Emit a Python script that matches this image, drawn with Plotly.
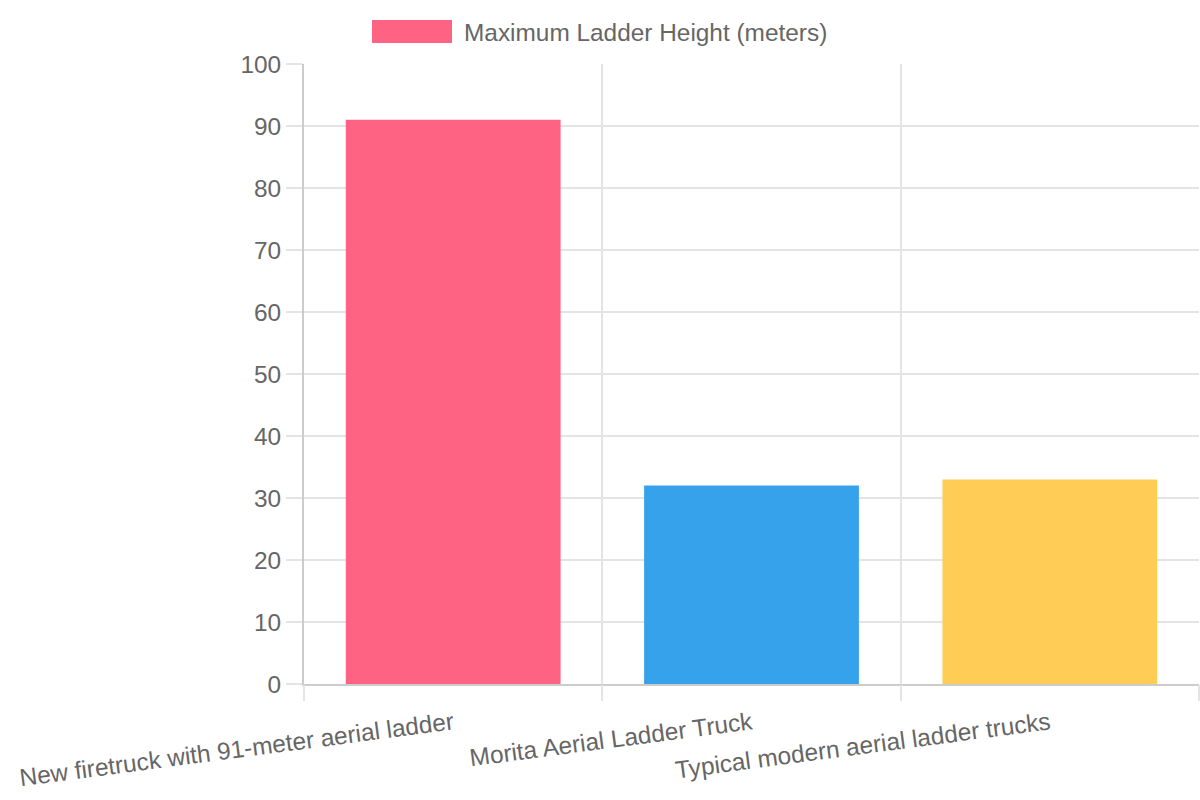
import plotly.graph_objects as go

categories = ["New firetruck with 91-meter aerial ladder",
              "Morita Aerial Ladder Truck",
              "Typical modern aerial ladder trucks"]
heights = [91, 32, 33]
colors = ["#ff6384", "#36a2eb", "#ffcd56"]
series_name = "Maximum Ladder Height (meters)"
y_ticks = [0, 10, 20, 30, 40, 50, 60, 70, 80, 90, 100]

FONT = "Liberation Sans"
GRID = "#e4e4e4"
AXIS = "#cccccc"
TXT = "#666666"
FS = 24.4

fig = go.Figure()
fig.add_trace(go.Bar(x=categories, y=heights, marker=dict(color=colors, line=dict(width=0)),
                     name=series_name, showlegend=False))
# invisible helper trace so that the boundary grid axis is drawn
fig.add_trace(go.Scatter(x=[-0.5], y=[0], xaxis="x2", mode="markers",
                         marker=dict(opacity=0), showlegend=False, hoverinfo="skip"))

boundaries = [i - 0.5 for i in range(len(categories) + 1)]

fig.update_layout(
    width=1200, height=800,
    margin=dict(l=304, r=1, t=64, b=116),
    paper_bgcolor="white", plot_bgcolor="white",
    font=dict(family=FONT, size=FS, color=TXT),
    bargap=0.28,
    showlegend=False,
    xaxis=dict(type="category", range=[-0.5, len(categories) - 0.5], showgrid=False,
               ticks="", tickangle=-7.5, tickfont=dict(size=FS, color=TXT),
               ticklabelstandoff=14, automargin=False,
               showline=True, linecolor=AXIS, linewidth=2, zeroline=False),
    xaxis2=dict(overlaying="x", range=[-0.5, len(categories) - 0.5], tickvals=boundaries,
                showticklabels=False, showgrid=True, gridcolor=GRID, gridwidth=1.5,
                ticks="outside", ticklen=16, tickcolor=GRID, tickwidth=1.5, side="bottom",
                zeroline=False, showline=False, automargin=False),
    yaxis=dict(range=[0, 100], tickvals=y_ticks, showgrid=True, gridcolor=GRID, gridwidth=1.5,
               ticks="outside", ticklen=16, tickcolor=GRID, tickwidth=1.5,
               ticklabelstandoff=0, automargin=False,
               tickfont=dict(size=FS, color=TXT),
               showline=True, linecolor=AXIS, linewidth=2, zeroline=False),
    shapes=[dict(type="rect", xref="paper", yref="paper",
                 x0=(372 - 304) / 895, x1=(452 - 304) / 895,
                 y0=(684 - 43) / 620, y1=(684 - 20) / 620,
                 fillcolor=colors[0], line=dict(width=0))],
    annotations=[dict(text=series_name, xref="paper", yref="paper",
                      x=(462 - 304) / 895, y=(684 - 32) / 620, xanchor="left", yanchor="middle",
                      showarrow=False, font=dict(size=FS, color=TXT))],
)

fig.write_html("out.html")
